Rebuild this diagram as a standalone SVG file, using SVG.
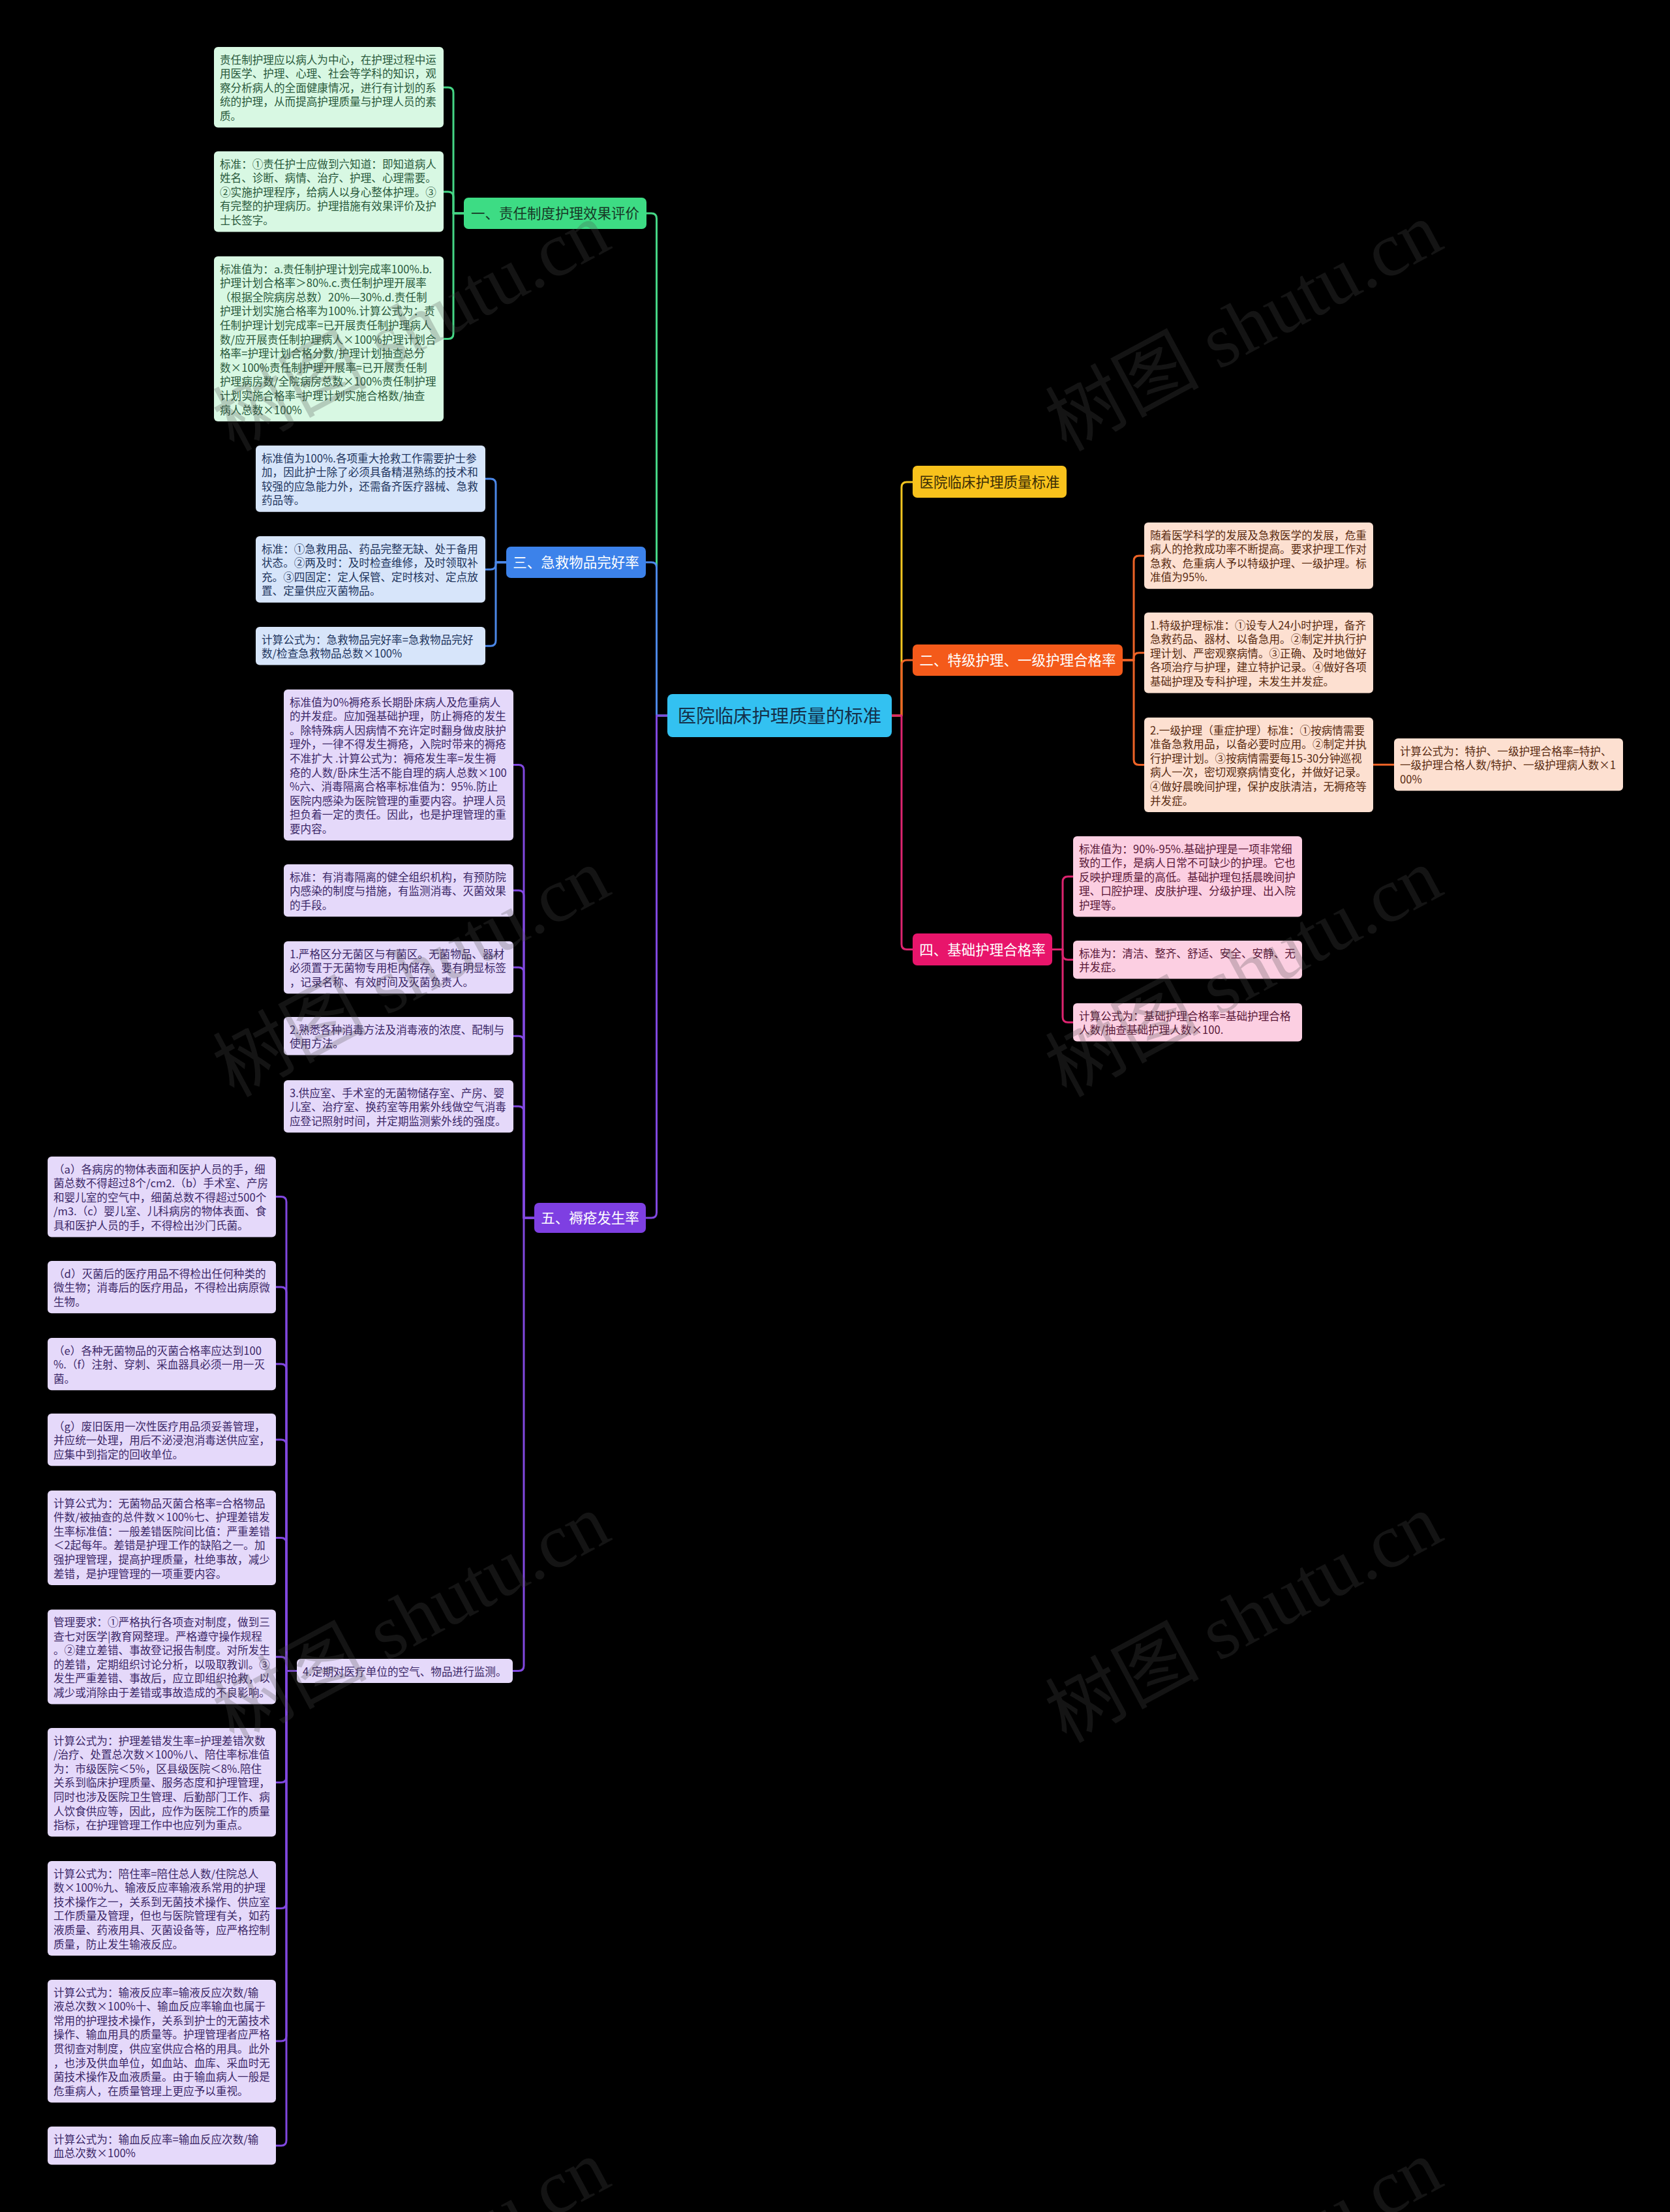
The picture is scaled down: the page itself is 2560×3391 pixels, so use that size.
<svg xmlns="http://www.w3.org/2000/svg" width="2560" height="3391" viewBox="0 0 2560 3391">
<style>
text{font-family:"Noto Sans CJK SC","Noto Sans",sans-serif}
.lf{font-size:16.6px}
.mn{font-size:21.5px;text-anchor:middle}
.rt{font-size:28.4px;text-anchor:middle;fill:#14304a}
.c{fill:none;stroke-width:3;stroke-linecap:round;stroke-linejoin:round}
.cg{stroke:#45d685}.cb{stroke:#4c88e8}.cp{stroke:#8148e0}.co{stroke:#ef6427}.ck{stroke:#de2470}.cy{stroke:#f2c520}
.lg rect{fill:#d8f8e3}.lg text{fill:#2a5a3c}
.lb rect{fill:#d7e5fa}.lb text{fill:#22355e}
.lp rect{fill:#e5d9fa}.lp text{fill:#3c2868}
.lo rect{fill:#fde0d1}.lo text{fill:#5a2c12}
.lk rect{fill:#fccfe2}.lk text{fill:#5a1838}
.wm{font-family:"Liberation Serif","Noto Sans CJK SC",serif;font-size:118px;fill:#4d4d4d;opacity:.26}
</style>
<rect width="2560" height="3391" fill="#000"/>
<g id="connectors">
<path class="c cg" d="M1023,1097 H1006.5 V335 Q1006.5,327 998.5,327 H990.5"/>
<path class="c cb" d="M1023,1097 H1006.5 V870 Q1006.5,862 998.5,862 H990"/>
<path class="c cp" d="M1023,1097 H1006.5 V1859 Q1006.5,1867 998.5,1867 H990"/>
<path class="c cy" d="M1367,1097 H1382 V747 Q1382,739 1390,739 H1399"/>
<path class="c co" d="M1367,1097 H1382 V1020 Q1382,1012 1390,1012 H1399"/>
<path class="c ck" d="M1367,1097 H1382 V1447.5 Q1382,1455.5 1390,1455.5 H1399"/>
<path class="c cg" d="M711,327 H695 V142 Q695,134 687,134 H680"/>
<path class="c cg" d="M711,327 H695 V302 Q695,294 687,294 H680"/>
<path class="c cg" d="M711,327 H695 V511.5 Q695,519.5 687,519.5 H680"/>
<path class="c cb" d="M776,862 H760 V742 Q760,734 752,734 H744"/>
<path class="c cb" d="M776,862 H760 V865 Q760,873 752,873 H744"/>
<path class="c cb" d="M776,862 H760 V982.3 Q760,990.3 752,990.3 H744"/>
<path class="c cp" d="M819,1867 H803 V1180.5 Q803,1172.5 795,1172.5 H787"/>
<path class="c cp" d="M819,1867 H803 V1373 Q803,1365 795,1365 H787"/>
<path class="c cp" d="M819,1867 H803 V1491 Q803,1483 795,1483 H787"/>
<path class="c cp" d="M819,1867 H803 V1596.3 Q803,1588.3 795,1588.3 H787"/>
<path class="c cp" d="M819,1867 H803 V1704 Q803,1696 795,1696 H787"/>
<path class="c cp" d="M819,1867 H803 V2553.5 Q803,2561.5 795,2561.5 H786"/>
<path class="c cp" d="M455,2561.5 H439 V1842.5 Q439,1834.5 431,1834.5 H423"/>
<path class="c cp" d="M455,2561.5 H439 V1981 Q439,1973 431,1973 H423"/>
<path class="c cp" d="M455,2561.5 H439 V2099 Q439,2091 431,2091 H423"/>
<path class="c cp" d="M455,2561.5 H439 V2215 Q439,2207 431,2207 H423"/>
<path class="c cp" d="M455,2561.5 H439 V2365.5 Q439,2357.5 431,2357.5 H423"/>
<path class="c cp" d="M455,2561.5 H439 V2548 Q439,2540 431,2540 H423"/>
<path class="c cp" d="M455,2561.5 H439 V2724.5 Q439,2732.5 431,2732.5 H423"/>
<path class="c cp" d="M455,2561.5 H439 V2917.5 Q439,2925.5 431,2925.5 H423"/>
<path class="c cp" d="M455,2561.5 H439 V3121 Q439,3129 431,3129 H423"/>
<path class="c cp" d="M455,2561.5 H439 V3281.3 Q439,3289.3 431,3289.3 H423"/>
<path class="c co" d="M1721,1012 H1738 V860 Q1738,852 1746,852 H1754"/>
<path class="c co" d="M1721,1012 H1738 V1008.7 Q1738,1000.7 1746,1000.7 H1754"/>
<path class="c co" d="M1721,1012 H1738 V1164.5 Q1738,1172.5 1746,1172.5 H1754"/>
<path class="c co" d="M2105,1172.3 H2137"/>
<path class="c ck" d="M1613,1455.5 H1629 V1351.7 Q1629,1343.7 1637,1343.7 H1645"/>
<path class="c ck" d="M1613,1455.5 H1629 V1463.3 Q1629,1471.3 1637,1471.3 H1645"/>
<path class="c ck" d="M1613,1455.5 H1629 V1559.3 Q1629,1567.3 1637,1567.3 H1645"/>
</g>
<g id="root"><rect x="1023" y="1064" width="344" height="66" rx="8" fill="#33c1f1"/><text class="rt" x="1195" y="1107.8">医院临床护理质量的标准</text></g>
<g id="n1"><rect x="711" y="303" width="280" height="48" rx="7" fill="#3ddc84"/><text class="mn" x="851" y="335.2" fill="#173826">一、责任制度护理效果评价</text></g>
<g id="n3"><rect x="776" y="838" width="214" height="48" rx="7" fill="#3c82ea"/><text class="mn" x="883" y="870.2" fill="#fff">三、急救物品完好率</text></g>
<g id="n5"><rect x="819" y="1844" width="171" height="46" rx="7" fill="#7e3fe2"/><text class="mn" x="904.5" y="1875.2" fill="#fff">五、褥疮发生率</text></g>
<g id="ny"><rect x="1399" y="714" width="236" height="49" rx="7" fill="#f8c21c"/><text class="mn" x="1517" y="746.7" fill="#3a2c05">医院临床护理质量标准</text></g>
<g id="n2"><rect x="1399" y="988" width="322" height="48" rx="7" fill="#f45a1a"/><text class="mn" x="1560" y="1020.2" fill="#fff">二、特级护理、一级护理合格率</text></g>
<g id="n4"><rect x="1399" y="1431" width="214" height="49" rx="7" fill="#e8156b"/><text class="mn" x="1506" y="1463.7" fill="#fff">四、基础护理合格率</text></g>
<g id="g1" class="lg"><rect x="328" y="72" width="352" height="123.4" rx="6"/><text class="lf" x="337"><tspan x="337" y="97.5">责任制护理应以病人为中心，在护理过程中运</tspan><tspan x="337" y="119.1">用医学、护理、心理、社会等学科的知识，观</tspan><tspan x="337" y="140.7">察分析病人的全面健康情况，进行有计划的系</tspan><tspan x="337" y="162.3">统的护理，从而提高护理质量与护理人员的素</tspan><tspan x="337" y="183.9">质。</tspan></text></g>
<g id="g2" class="lg"><rect x="328" y="232" width="352" height="123.4" rx="6"/><text class="lf"><tspan x="337" y="257.5">标准：①责任护士应做到六知道：即知道病人</tspan><tspan x="337" y="279.1">姓名、诊断、病情、治疗、护理、心理需要。</tspan><tspan x="337" y="300.7">②实施护理程序，给病人以身心整体护理。③</tspan><tspan x="337" y="322.3">有完整的护理病历。护理措施有效果评价及护</tspan><tspan x="337" y="343.9">士长签字。</tspan></text></g>
<g id="g3" class="lg"><rect x="328" y="393" width="352" height="253" rx="6"/><text class="lf"><tspan x="337" y="418.5">标准值为：a.责任制护理计划完成率100%.b.</tspan><tspan x="337" y="440.1">护理计划合格率＞80%.c.责任制护理开展率</tspan><tspan x="337" y="461.7">（根据全院病房总数）20%—30%.d.责任制</tspan><tspan x="337" y="483.3">护理计划实施合格率为100%.计算公式为：责</tspan><tspan x="337" y="504.9">任制护理计划完成率=已开展责任制护理病人</tspan><tspan x="337" y="526.5">数/应开展责任制护理病人×100%护理计划合</tspan><tspan x="337" y="548.1">格率=护理计划合格分数/护理计划抽查总分</tspan><tspan x="337" y="569.7">数×100%责任制护理开展率=已开展责任制</tspan><tspan x="337" y="591.3">护理病房数/全院病房总数×100%责任制护理</tspan><tspan x="337" y="612.9">计划实施合格率=护理计划实施合格数/抽查</tspan><tspan x="337" y="634.5">病人总数×100%</tspan></text></g>
<g id="b1" class="lb"><rect x="392" y="683" width="352" height="101.8" rx="6"/><text class="lf"><tspan x="401" y="708.5">标准值为100%.各项重大抢救工作需要护士参</tspan><tspan x="401" y="730.1">加，因此护士除了必须具备精湛熟练的技术和</tspan><tspan x="401" y="751.7">较强的应急能力外，还需备齐医疗器械、急救</tspan><tspan x="401" y="773.3">药品等。</tspan></text></g>
<g id="b2" class="lb"><rect x="392" y="822" width="352" height="101.8" rx="6"/><text class="lf"><tspan x="401" y="847.5">标准：①急救用品、药品完整无缺、处于备用</tspan><tspan x="401" y="869.1">状态。②两及时：及时检查维修，及时领取补</tspan><tspan x="401" y="890.7">充。③四固定：定人保管、定时核对、定点放</tspan><tspan x="401" y="912.3">置、定量供应灭菌物品。</tspan></text></g>
<g id="b3" class="lb"><rect x="392" y="961" width="352" height="58.6" rx="6"/><text class="lf"><tspan x="401" y="986.5">计算公式为：急救物品完好率=急救物品完好</tspan><tspan x="401" y="1008.1">数/检查急救物品总数×100%</tspan></text></g>
<g id="p1" class="lp"><rect x="435" y="1057" width="352" height="231.4" rx="6"/><text class="lf"><tspan x="444" y="1082.5">标准值为0%褥疮系长期卧床病人及危重病人</tspan><tspan x="444" y="1104.1">的并发症。应加强基础护理，防止褥疮的发生</tspan><tspan x="444" y="1125.7">。除特殊病人因病情不充许定时翻身做皮肤护</tspan><tspan x="444" y="1147.3">理外，一律不得发生褥疮，入院时带来的褥疮</tspan><tspan x="444" y="1168.9">不准扩大 .计算公式为：褥疮发生率=发生褥</tspan><tspan x="444" y="1190.5">疮的人数/卧床生活不能自理的病人总数×100</tspan><tspan x="444" y="1212.1">%六、消毒隔离合格率标准值为：95%.防止</tspan><tspan x="444" y="1233.7">医院内感染为医院管理的重要内容。护理人员</tspan><tspan x="444" y="1255.3">担负着一定的责任。因此，也是护理管理的重</tspan><tspan x="444" y="1276.9">要内容。</tspan></text></g>
<g id="p2" class="lp"><rect x="435" y="1325" width="352" height="80.2" rx="6"/><text class="lf"><tspan x="444" y="1350.5">标准：有消毒隔离的健全组织机构，有预防院</tspan><tspan x="444" y="1372.1">内感染的制度与措施，有监测消毒、灭菌效果</tspan><tspan x="444" y="1393.7">的手段。</tspan></text></g>
<g id="p3" class="lp"><rect x="435" y="1443" width="352" height="80.2" rx="6"/><text class="lf"><tspan x="444" y="1468.5">1.严格区分无菌区与有菌区。无菌物品、器材</tspan><tspan x="444" y="1490.1">必须置于无菌物专用柜内储存。要有明显标签</tspan><tspan x="444" y="1511.7">，记录名称、有效时间及灭菌负责人。</tspan></text></g>
<g id="p4" class="lp"><rect x="435" y="1559" width="352" height="58.6" rx="6"/><text class="lf"><tspan x="444" y="1584.5">2.熟悉各种消毒方法及消毒液的浓度、配制与</tspan><tspan x="444" y="1606.1">使用方法。</tspan></text></g>
<g id="p5" class="lp"><rect x="435" y="1656" width="352" height="80.2" rx="6"/><text class="lf"><tspan x="444" y="1681.5">3.供应室、手术室的无菌物储存室、产房、婴</tspan><tspan x="444" y="1703.1">儿室、治疗室、换药室等用紫外线做空气消毒</tspan><tspan x="444" y="1724.7">应登记照射时间，并定期监测紫外线的强度。</tspan></text></g>
<g id="p6" class="lp"><rect x="455" y="2543" width="331" height="37" rx="6"/><text class="lf" x="464" y="2568.5">4.定期对医疗单位的空气、物品进行监测。</text></g>
<g id="q1" class="lp"><rect x="73" y="1773" width="350" height="123.4" rx="6"/><text class="lf"><tspan x="82" y="1798.5">（a）各病房的物体表面和医护人员的手，细</tspan><tspan x="82" y="1820.1">菌总数不得超过8个/cm2.（b）手术室、产房</tspan><tspan x="82" y="1841.7">和婴儿室的空气中，细菌总数不得超过500个</tspan><tspan x="82" y="1863.3">/m3.（c）婴儿室、儿科病房的物体表面、食</tspan><tspan x="82" y="1884.9">具和医护人员的手，不得检出沙门氏菌。</tspan></text></g>
<g id="q2" class="lp"><rect x="73" y="1933" width="350" height="80.2" rx="6"/><text class="lf"><tspan x="82" y="1958.5">（d）灭菌后的医疗用品不得检出任何种类的</tspan><tspan x="82" y="1980.1">微生物；消毒后的医疗用品，不得检出病原微</tspan><tspan x="82" y="2001.7">生物。</tspan></text></g>
<g id="q3" class="lp"><rect x="73" y="2051" width="350" height="80.2" rx="6"/><text class="lf"><tspan x="82" y="2076.5">（e）各种无菌物品的灭菌合格率应达到100</tspan><tspan x="82" y="2098.1">%.（f）注射、穿刺、采血器具必须一用一灭</tspan><tspan x="82" y="2119.7">菌。</tspan></text></g>
<g id="q4" class="lp"><rect x="73" y="2167" width="350" height="80.2" rx="6"/><text class="lf"><tspan x="82" y="2192.5">（g）废旧医用一次性医疗用品须妥善管理，</tspan><tspan x="82" y="2214.1">并应统一处理，用后不泌浸泡消毒送供应室，</tspan><tspan x="82" y="2235.7">应集中到指定的回收单位。</tspan></text></g>
<g id="q5" class="lp"><rect x="73" y="2285" width="350" height="145" rx="6"/><text class="lf"><tspan x="82" y="2310.5">计算公式为：无菌物品灭菌合格率=合格物品</tspan><tspan x="82" y="2332.1">件数/被抽查的总件数×100%七、护理差错发</tspan><tspan x="82" y="2353.7">生率标准值：一般差错医院间比值：严重差错</tspan><tspan x="82" y="2375.3">＜2起每年。差错是护理工作的缺陷之一。加</tspan><tspan x="82" y="2396.9">强护理管理，提高护理质量，杜绝事故，减少</tspan><tspan x="82" y="2418.5">差错，是护理管理的一项重要内容。</tspan></text></g>
<g id="q6" class="lp"><rect x="73" y="2467.5" width="350" height="145" rx="6"/><text class="lf"><tspan x="82" y="2493">管理要求：①严格执行各项查对制度，做到三</tspan><tspan x="82" y="2514.6">查七对医学|教育网整理。严格遵守操作规程</tspan><tspan x="82" y="2536.2">。②建立差错、事故登记报告制度。对所发生</tspan><tspan x="82" y="2557.8">的差错，定期组织讨论分析，以吸取教训。③</tspan><tspan x="82" y="2579.4">发生严重差错、事故后，应立即组织抢救，以</tspan><tspan x="82" y="2601">减少或消除由于差错或事故造成的不良影响。</tspan></text></g>
<g id="q7" class="lp"><rect x="73" y="2649" width="350" height="166.6" rx="6"/><text class="lf"><tspan x="82" y="2674.5">计算公式为：护理差错发生率=护理差错次数</tspan><tspan x="82" y="2696.1">/治疗、处置总次数×100%八、陪住率标准值</tspan><tspan x="82" y="2717.7">为：市级医院＜5%，区县级医院＜8%.陪住</tspan><tspan x="82" y="2739.3">关系到临床护理质量、服务态度和护理管理，</tspan><tspan x="82" y="2760.9">同时也涉及医院卫生管理、后勤部门工作、病</tspan><tspan x="82" y="2782.5">人饮食供应等，因此，应作为医院工作的质量</tspan><tspan x="82" y="2804.1">指标，在护理管理工作中也应列为重点。</tspan></text></g>
<g id="q8" class="lp"><rect x="73" y="2853" width="350" height="145" rx="6"/><text class="lf"><tspan x="82" y="2878.5">计算公式为：陪住率=陪住总人数/住院总人</tspan><tspan x="82" y="2900.1">数×100%九、输液反应率输液系常用的护理</tspan><tspan x="82" y="2921.7">技术操作之一，关系到无菌技术操作、供应室</tspan><tspan x="82" y="2943.3">工作质量及管理，但也与医院管理有关，如药</tspan><tspan x="82" y="2964.9">液质量、药液用具、灭菌设备等，应严格控制</tspan><tspan x="82" y="2986.5">质量，防止发生输液反应。</tspan></text></g>
<g id="q9" class="lp"><rect x="73" y="3035" width="350" height="188.2" rx="6"/><text class="lf"><tspan x="82" y="3060.5">计算公式为：输液反应率=输液反应次数/输</tspan><tspan x="82" y="3082.1">液总次数×100%十、输血反应率输血也属于</tspan><tspan x="82" y="3103.7">常用的护理技术操作，关系到护士的无菌技术</tspan><tspan x="82" y="3125.3">操作、输血用具的质量等。护理管理者应严格</tspan><tspan x="82" y="3146.9">贯彻查对制度，供应室供应合格的用具。此外</tspan><tspan x="82" y="3168.5">，也涉及供血单位，如血站、血库、采血时无</tspan><tspan x="82" y="3190.1">菌技术操作及血液质量。由于输血病人一般是</tspan><tspan x="82" y="3211.7">危重病人，在质量管理上更应予以重视。</tspan></text></g>
<g id="q10" class="lp"><rect x="73" y="3260" width="350" height="58.6" rx="6"/><text class="lf"><tspan x="82" y="3285.5">计算公式为：输血反应率=输血反应次数/输</tspan><tspan x="82" y="3307.1">血总次数×100%</tspan></text></g>
<g id="o1" class="lo"><rect x="1754" y="801" width="351" height="101.8" rx="6"/><text class="lf"><tspan x="1763" y="826.5">随着医学科学的发展及急救医学的发展，危重</tspan><tspan x="1763" y="848.1">病人的抢救成功率不断提高。要求护理工作对</tspan><tspan x="1763" y="869.7">急救、危重病人予以特级护理、一级护理。标</tspan><tspan x="1763" y="891.3">准值为95%.</tspan></text></g>
<g id="o2" class="lo"><rect x="1754" y="939" width="351" height="123.4" rx="6"/><text class="lf"><tspan x="1763" y="964.5">1.特级护理标准：①设专人24小时护理，备齐</tspan><tspan x="1763" y="986.1">急救药品、器材、以备急用。②制定并执行护</tspan><tspan x="1763" y="1007.7">理计划、严密观察病情。③正确、及时地做好</tspan><tspan x="1763" y="1029.3">各项治疗与护理，建立特护记录。④做好各项</tspan><tspan x="1763" y="1050.9">基础护理及专科护理，未发生并发症。</tspan></text></g>
<g id="o3" class="lo"><rect x="1754" y="1100" width="351" height="145" rx="6"/><text class="lf"><tspan x="1763" y="1125.5">2.一级护理（重症护理）标准：①按病情需要</tspan><tspan x="1763" y="1147.1">准备急救用品，以备必要时应用。②制定并执</tspan><tspan x="1763" y="1168.7">行护理计划。③按病情需要每15-30分钟巡视</tspan><tspan x="1763" y="1190.3">病人一次，密切观察病情变化，并做好记录。</tspan><tspan x="1763" y="1211.9">④做好晨晚间护理，保护皮肤清洁，无褥疮等</tspan><tspan x="1763" y="1233.5">并发症。</tspan></text></g>
<g id="o4" class="lo"><rect x="2137" y="1132" width="351" height="80.2" rx="6"/><text class="lf"><tspan x="2146" y="1157.5">计算公式为：特护、一级护理合格率=特护、</tspan><tspan x="2146" y="1179.1">一级护理合格人数/特护、一级护理病人数×1</tspan><tspan x="2146" y="1200.7">00%</tspan></text></g>
<g id="k1" class="lk"><rect x="1645" y="1282" width="351" height="123.4" rx="6"/><text class="lf"><tspan x="1654" y="1307.5">标准值为：90%-95%.基础护理是一项非常细</tspan><tspan x="1654" y="1329.1">致的工作，是病人日常不可缺少的护理。它也</tspan><tspan x="1654" y="1350.7">反映护理质量的高低。基础护理包括晨晚间护</tspan><tspan x="1654" y="1372.3">理、口腔护理、皮肤护理、分级护理、出入院</tspan><tspan x="1654" y="1393.9">护理等。</tspan></text></g>
<g id="k2" class="lk"><rect x="1645" y="1442" width="351" height="58.6" rx="6"/><text class="lf"><tspan x="1654" y="1467.5">标准为：清洁、整齐、舒适、安全、安静、无</tspan><tspan x="1654" y="1489.1">并发症。</tspan></text></g>
<g id="k3" class="lk"><rect x="1645" y="1538" width="351" height="58.6" rx="6"/><text class="lf"><tspan x="1654" y="1563.5">计算公式为：基础护理合格率=基础护理合格</tspan><tspan x="1654" y="1585.1">人数/抽查基础护理人数×100.</tspan></text></g>
<g id="watermark">
<text class="wm" transform="translate(358,693) rotate(-28.3)">树图 shutu.cn</text>
<text class="wm" transform="translate(1634,693) rotate(-28.3)">树图 shutu.cn</text>
<text class="wm" transform="translate(358,1683) rotate(-28.3)">树图 shutu.cn</text>
<text class="wm" transform="translate(1634,1683) rotate(-28.3)">树图 shutu.cn</text>
<text class="wm" transform="translate(358,2673) rotate(-28.3)">树图 shutu.cn</text>
<text class="wm" transform="translate(1634,2673) rotate(-28.3)">树图 shutu.cn</text>
<text class="wm" transform="translate(358,3663) rotate(-28.3)">树图 shutu.cn</text>
<text class="wm" transform="translate(1634,3663) rotate(-28.3)">树图 shutu.cn</text>
</g>
</svg>
